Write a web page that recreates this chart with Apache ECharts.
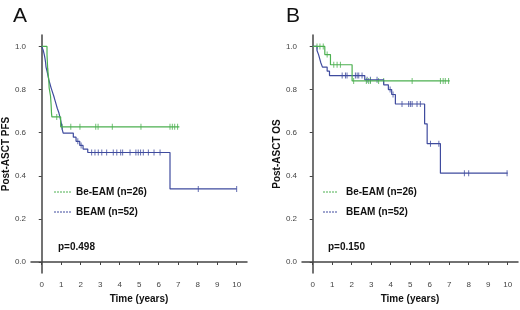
<!DOCTYPE html>
<html>
<head>
<meta charset="utf-8">
<script src="https://cdn.jsdelivr.net/npm/echarts@6/dist/echarts.min.js"></script>
<style>
  html, body { margin: 0; padding: 0; background: #fff; }
  #chart { width: 520px; height: 310px; }
</style>
</head>
<body>
<div id="chart"></div>
<script>
// Kaplan-Meier steps [time in years, survival]
var pfsBeEam = [[0, 1], [0.27, 0.962], [0.29, 0.923], [0.31, 0.885], [0.36, 0.846], [0.38, 0.808],
  [0.45, 0.77], [0.48, 0.731], [0.5, 0.692], [0.52, 0.673], [0.97, 0.627], [7.06, 0.627]];
var pfsBeam = [[0, 1], [0.08, 0.981], [0.13, 0.962], [0.17, 0.942], [0.2, 0.923], [0.22, 0.904],
  [0.27, 0.885], [0.32, 0.865], [0.36, 0.846], [0.42, 0.827], [0.48, 0.808], [0.55, 0.788],
  [0.62, 0.769], [0.68, 0.75], [0.74, 0.731], [0.8, 0.712], [0.88, 0.692], [0.93, 0.673],
  [0.98, 0.654], [1.02, 0.635], [1.05, 0.615], [1.1, 0.598], [1.62, 0.579], [1.76, 0.56],
  [1.95, 0.541], [2.12, 0.524], [2.36, 0.508], [6.58, 0.339], [10, 0.339]];
var osBeEam = [[0, 1], [0.62, 0.962], [0.91, 0.915], [2.02, 0.84], [7.03, 0.84]];
var osBeam = [[0, 1], [0.22, 0.981], [0.3, 0.962], [0.36, 0.942], [0.42, 0.923], [0.5, 0.904],
  [0.74, 0.885], [0.86, 0.865], [2.67, 0.845], [3.64, 0.822], [3.88, 0.8], [4.05, 0.777],
  [4.24, 0.733], [5.74, 0.641], [5.87, 0.549], [6.55, 0.412], [10, 0.412]];

// censored observations
var pfsBeEamCens = [[0.31, 0.885], [0.77, 0.673], [1.05, 0.627], [1.49, 0.627], [1.96, 0.627],
  [2.77, 0.627], [2.89, 0.627], [3.62, 0.627], [5.09, 0.627], [6.58, 0.627], [6.7, 0.627],
  [6.82, 0.627], [6.97, 0.627]];
var pfsBeamCens = [[1.85, 0.56], [2.02, 0.541], [2.56, 0.508], [2.73, 0.508], [2.9, 0.508],
  [3.08, 0.508], [3.33, 0.508], [3.67, 0.508], [3.85, 0.508], [4.05, 0.508], [4.15, 0.508],
  [4.53, 0.508], [4.83, 0.508], [4.95, 0.508], [5.07, 0.508], [5.21, 0.508], [5.47, 0.508],
  [5.76, 0.508], [6.07, 0.508], [8.03, 0.339], [10, 0.339]];
var osBeEamCens = [[0.22, 1], [0.37, 1], [0.54, 1], [0.74, 0.962], [1.08, 0.915], [1.25, 0.915],
  [1.42, 0.915], [2.1, 0.84], [2.75, 0.84], [2.87, 0.84], [2.96, 0.84], [3.38, 0.84], [3.64, 0.84],
  [5.1, 0.84], [6.55, 0.84], [6.69, 0.84], [6.8, 0.84], [6.97, 0.84]];
var osBeamCens = [[1.51, 0.865], [1.68, 0.865], [1.76, 0.865], [2.19, 0.865], [2.28, 0.865],
  [2.36, 0.865], [2.53, 0.865], [2.79, 0.845], [2.96, 0.845], [3.3, 0.845], [3.97, 0.8],
  [4.12, 0.777], [4.58, 0.733], [4.92, 0.733], [5.01, 0.733], [5.1, 0.733], [5.35, 0.733],
  [5.52, 0.733], [6.04, 0.549], [6.47, 0.549], [7.78, 0.412], [8.0, 0.412], [9.97, 0.412]];

var xTicks = [0, 1, 2, 3, 4, 5, 6, 7, 8, 9, 10];
var yTicks = [0, 0.2, 0.4, 0.6, 0.8, 1.0];
var panels = ["A", "B"];
var yTitles = ["Post-ASCT PFS", "Post-ASCT OS"];
var groups = ["Be-EAM (n=26)", "BEAM (n=52)"];
var pValues = ["p=0.498", "p=0.150"];

var green = "#4cb050";
var blue = "#3f4b9e";
var font = "Liberation Sans";

var myChart = echarts.init(document.getElementById("chart"), null, { renderer: "canvas" });

function xAx(i) {
    return {
        type: "value", gridIndex: i, min: -0.55, max: 10.53,
        name: "Time (years)", nameLocation: "middle", nameGap: 21,
        nameTextStyle: { fontFamily: font, fontWeight: "bold", fontSize: 10, color: "#111" },
        axisLine: { lineStyle: { color: "#444", width: 1.5 } },
        axisTick: { customValues: xTicks, length: 3, lineStyle: { color: "#444" } },
        axisLabel: { customValues: xTicks, fontFamily: font, fontSize: 8, color: "#444", margin: 8 },
        splitLine: { show: false }
    };
}
function yAx(i) {
    return {
        type: "value", gridIndex: i, min: -0.051, max: 1.053,
        name: yTitles[i], nameLocation: "middle", nameGap: 17,
        nameTextStyle: { fontFamily: font, fontWeight: "bold", fontSize: 10, color: "#111" },
        axisLine: { show: true, lineStyle: { color: "#444", width: 1.5 } },
        axisTick: { show: true, customValues: yTicks, length: 3, lineStyle: { color: "#444" } },
        axisLabel: { customValues: yTicks, fontFamily: font, fontSize: 8, color: "#444", margin: 5,
            formatter: function (v) { return v.toFixed(1); } },
        splitLine: { show: false }
    };
}
function stepLine(i, name, data, color) {
    return { type: "line", name: name, xAxisIndex: i, yAxisIndex: i, data: data, step: "end",
        showSymbol: false, lineStyle: { color: color, width: 1.2 }, silent: true };
}
function cens(i, data, color) {
    return { type: "scatter", xAxisIndex: i, yAxisIndex: i, data: data, symbol: "rect",
        symbolSize: [1, 6], itemStyle: { color: color }, silent: true };
}
function legendBits(x0, x1, tx) {
    var out = [];
    [green, blue].forEach(function (c, k) {
        var y = 192 + k * 20;
        out.push({ type: "line", shape: { x1: x0, y1: y, x2: x1, y2: y },
            style: { stroke: c, lineWidth: 1, lineDash: [2, 1] } });
        out.push({ type: "text", x: tx, y: y, style: { text: groups[k], fill: "#111",
            font: "bold 10px " + font, textVerticalAlign: "middle" } });
    });
    return out;
}

var graphics = []
    .concat(legendBits(54, 71, 76))
    .concat(legendBits(323, 337, 346))
    .concat([
        { type: "text", x: 58, y: 247, style: { text: pValues[0], fill: "#111", font: "bold 10px " + font, textVerticalAlign: "middle" } },
        { type: "text", x: 328, y: 247, style: { text: pValues[1], fill: "#111", font: "bold 10px " + font, textVerticalAlign: "middle" } },
        { type: "text", x: 13, y: 16, style: { text: panels[0], fill: "#111", font: "21px " + font, textVerticalAlign: "middle" } },
        { type: "text", x: 286, y: 16, style: { text: panels[1], fill: "#111", font: "21px " + font, textVerticalAlign: "middle" } }
    ]);

var option = {
    animation: false,
    backgroundColor: "#fff",
    grid: [
        { left: 31, top: 35, width: 216, height: 238 },
        { left: 302, top: 35, width: 216, height: 238 }
    ],
    xAxis: [xAx(0), xAx(1)],
    yAxis: [yAx(0), yAx(1)],
    series: [
        stepLine(0, groups[1], pfsBeam, blue),
        stepLine(0, groups[0], pfsBeEam, green),
        cens(0, pfsBeamCens, blue),
        cens(0, pfsBeEamCens, green),
        stepLine(1, groups[1], osBeam, blue),
        stepLine(1, groups[0], osBeEam, green),
        cens(1, osBeamCens, blue),
        cens(1, osBeEamCens, green)
    ],
    graphic: graphics
};
myChart.setOption(option);
</script>
</body>
</html>
